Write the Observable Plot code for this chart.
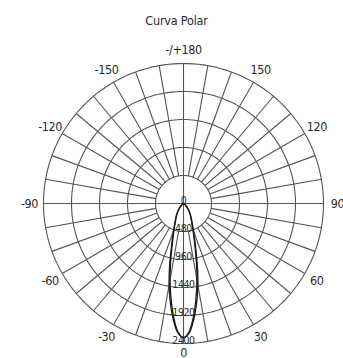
<!DOCTYPE html>
<html>
<head>
<meta charset="utf-8">
<script src="https://cdn.jsdelivr.net/npm/d3@7"></script>
<script src="https://cdn.jsdelivr.net/npm/@observablehq/plot@0.6"></script>
<style>
  html, body { margin: 0; padding: 0; background: #fff; }
  #title { height: 30px; width: 343px; text-align: center; font-family: "DejaVu Sans Condensed", "Liberation Sans Narrow", "Liberation Sans", sans-serif; font-size: 12.5px; color: #2a2a2a; line-height: 42px; padding-left: 10px; box-sizing: border-box; letter-spacing: -0.2px; }
  svg text { letter-spacing: -0.4px; }
</style>
</head>
<body>
<div id="title">Curva Polar</div>
<div id="chart"></div>
<script>
const title = "Curva Polar";
const ringValues = [480, 960, 1440, 1920, 2400];
const ringLabels = ["0", "480", "960", "1440", "1920", "2400"];
const ringLabelValues = [0, 480, 960, 1440, 1920, 2400];
const angleTicks = [180, -150, -120, -90, -60, -30, 0, 30, 60, 90, 120, 150];
const angleTickLabels = ["-/+180", "-150", "-120", "-90", "-60", "-30", "0", "30", "60", "90", "120", "150"];
const gammaAngles = [0, 2.5, 5, 7.5, 10, 12.5, 15, 20, 25, 30, 35, 40, 45, 50, 60, 70, 80, 90];
const planeC0 = [2300, 2220, 2000, 1720, 1420, 1100, 820, 500, 340, 250, 180, 120, 80, 50, 22, 8, 3, 0];
const planeC90 = [2300, 2200, 1950, 1640, 1330, 1020, 760, 470, 320, 235, 170, 112, 74, 46, 20, 7, 2, 0];

const maxR = 2400;
const rad = (a) => a * Math.PI / 180;
const px = (a, v) => v * Math.sin(rad(a));
const py = (a, v) => -v * Math.cos(rad(a));

const ringPts = [];
for (const v of ringValues) for (let a = 0; a <= 360; a += 2) ringPts.push({ring: v, x: px(a, v), y: py(a, v)});
const spokes = d3.range(0, 360, 10).map(a => {
  const r0 = (a % 90 === 0) ? 0 : ringValues[0];
  return {x1: px(a, r0), y1: py(a, r0), x2: px(a, maxR), y2: py(a, maxR)};
});
function planePts(vals, name) {
  const pts = [];
  for (let i = gammaAngles.length - 1; i >= 0; i--) pts.push({plane: name, x: px(-gammaAngles[i], vals[i]), y: py(-gammaAngles[i], vals[i])});
  for (let i = 1; i < gammaAngles.length; i++) pts.push({plane: name, x: px(gammaAngles[i], vals[i]), y: py(gammaAngles[i], vals[i])});
  return pts;
}
const curve = planePts(planeC0, "C0-C180").concat(planePts(planeC90, "C90-C270"));
const labelR = maxR * 154 / 140;
const angleLabelData = angleTicks.map((a, i) => {
  const r = a === 0 ? maxR * 149 / 140 : labelR;
  return {x: px(a, r), y: py(a, r), t: angleTickLabels[i]};
});
const ringLabelData = ringLabelValues.map((v, i) => ({x: 0, y: py(0, v), t: ringLabels[i]}));

const cx = 183, cy = 173, Rpx = 140;
const font = '"DejaVu Sans Condensed", "Liberation Sans Narrow", "Liberation Sans", sans-serif';
const plot = Plot.plot({
  width: 343,
  height: 328,
  margin: 0,
  style: {fontFamily: font, background: "#fff"},
  x: {domain: [-maxR, maxR], range: [cx - Rpx, cx + Rpx], axis: null},
  y: {domain: [-maxR, maxR], range: [cy + Rpx, cy - Rpx], axis: null},
  marks: [
    Plot.line(ringPts, {x: "x", y: "y", z: "ring", stroke: "#555", strokeWidth: 1.1, curve: "linear"}),
    Plot.link(spokes, {x1: "x1", y1: "y1", x2: "x2", y2: "y2", stroke: "#555", strokeWidth: 1.1}),
    Plot.line(curve, {x: "x", y: "y", z: "plane", stroke: "#1a1a1a", strokeWidth: 1.3, curve: "catmull-rom"}),
    Plot.text(ringLabelData, {x: "x", y: "y", text: "t", fill: "#2a2a2a", fontSize: 10.5, lineAnchor: "bottom", dy: 0}),
    Plot.text(angleLabelData, {x: "x", y: "y", text: "t", fill: "#2a2a2a", fontSize: 12.5})
  ]
});
document.getElementById("chart").appendChild(plot);
</script>
</body>
</html>
